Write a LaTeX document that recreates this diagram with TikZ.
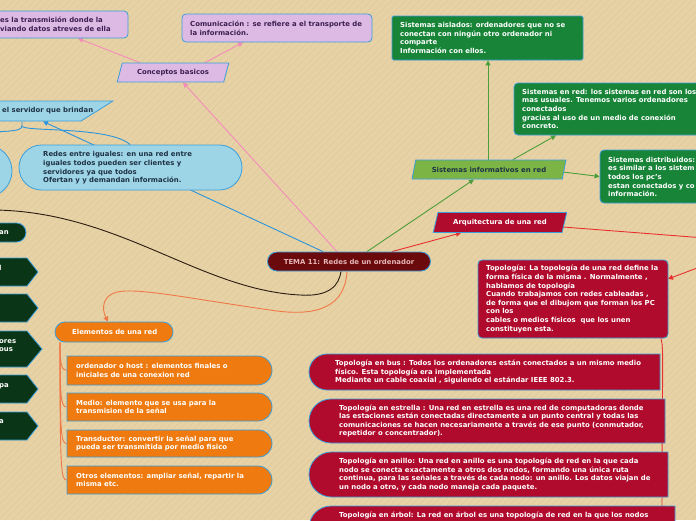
\documentclass[tikz,border=0pt]{standalone}
\usepackage{fontspec}
\setmainfont{DejaVu Sans}
\usetikzlibrary{shapes.geometric,shapes.misc,arrows.meta,calc}
\pgfdeclarelayer{paper}
\pgfdeclarelayer{links}
\pgfsetlayers{paper,links,main}
\definecolor{bg}{RGB}{231,210,166}
\definecolor{stripe}{RGB}{223,201,157}
\definecolor{purp}{RGB}{220,186,228}
\definecolor{purptext}{RGB}{60,30,80}
\definecolor{bord}{RGB}{58,158,219}
\definecolor{dgreen}{RGB}{24,132,56}
\definecolor{lgreen}{RGB}{124,181,69}
\definecolor{crim}{RGB}{176,11,45}
\definecolor{temafill}{RGB}{106,10,12}
\definecolor{tematext}{RGB}{230,183,185}
\definecolor{ltblue}{RGB}{158,213,230}
\definecolor{bluetext}{RGB}{30,50,70}
\definecolor{orng}{RGB}{239,123,16}
\definecolor{dkgreen}{RGB}{10,53,22}
\definecolor{pinkline}{RGB}{243,140,184}
\definecolor{greenline}{RGB}{76,158,58}
\definecolor{redline}{RGB}{232,49,47}
\definecolor{blueline}{RGB}{43,148,218}
\definecolor{orline}{RGB}{240,120,70}
\definecolor{darkline}{RGB}{42,26,16}
\newcommand{\fs}{\fontsize{6.9}{8.6}\selectfont\bfseries}
\begin{document}
\begin{tikzpicture}[x=1pt,y=-1pt,
  base/.style={inner sep=0pt, line width=0.8pt, draw=bord},
  txt/.style={font=\fs, inner sep=0pt, align=left, anchor=west},
  rbox/.style={base, rectangle, rounded corners=4pt},
  para/.style={base, trapezium, trapezium left angle=62, trapezium right angle=118, trapezium stretches=true, font=\fs},
  pill/.style={base, rounded rectangle},
  lpill/.style={base, rounded rectangle, rounded rectangle left arc=none},
  rpill/.style={base, rounded rectangle, rounded rectangle right arc=none},
  conn/.style={line width=0.9pt, -{Triangle[length=5pt,width=5pt]}},
  link/.style={line width=0.9pt},
  darkshape/.style={fill=dkgreen, draw=bord, line width=0.8pt}
]
\begin{pgfonlayer}{paper}
\fill[bg] (0,0) rectangle (696,520);
\begin{scope}
\clip (0,0) rectangle (696,520);
\foreach \i in {0,7,...,1220} {\draw[stripe, line width=0.5pt] (\i,0) -- (\i-520,520);}
\end{scope}
\end{pgfonlayer}
\useasboundingbox (0,0) rectangle (696,520);

\coordinate (dk) at (-5,210);
\coordinate (offa) at (705,238);
\coordinate (offb) at (705,265);
\coordinate (vbot) at (662,525);

% ---------- purple ----------
\node[rbox, fill=purp, minimum width=136pt, minimum height=27pt] (tl) at (60,24.5) {};
\node[txt, text=purptext] (tlt) at (0,24.5) {es la transmisión donde la\\viando datos atreves de ella};

\node[rbox, fill=purp, minimum width=190pt, minimum height=28pt] (com) at (277,28) {};
\node[txt, text=purptext] (comt) at (190,28) {Comunicación : se refiere a el transporte de\\la información.};

\node[para, fill=purp, text=purptext, minimum width=112pt, minimum height=19pt] (conc) at (173,72.5) {Conceptos basicos};

% ---------- green ----------
\node[base, rectangle, rounded corners=1.5pt, fill=dgreen, minimum width=191pt, minimum height=44pt] (aisl) at (487.5,38) {};
\node[txt, text=white] (aislt) at (400,38) {Sistemas aislados: ordenadores que no se\\conectan con ningún otro ordenador ni\\comparte\\Información con ellos.};

\node[rbox, fill=dgreen, minimum width=206pt, minimum height=52pt] (enred) at (617,109) {};
\node[txt, text=white] (enredt) at (522,109) {Sistemas en red: los sistemas en red son los\\mas usuales. Tenemos varios ordenadores\\conectados\\gracias al uso de un medio de conexión\\concreto.};

\node[rbox, fill=dgreen, minimum width=120pt, minimum height=53pt] (distr) at (660,176.5) {};
\node[txt, text=white] (distrt) at (608,177) {Sistemas distribuidos:\\es similar a los sistem\\todos los pc's\\estan conectados y co\\información.};

\node[para, fill=lgreen, text=bluetext, minimum width=154pt, minimum height=19pt] (sinf) at (489,169.5) {Sistemas informativos en red};

% ---------- red ----------
\node[para, fill=crim, text=white, minimum width=134pt, minimum height=20pt] (arq) at (500,222.5) {Arquitectura de una red};

\node[pill, fill=temafill, text=tematext, font=\fs, minimum width=163pt, minimum height=19pt] (tem) at (349,261.5) {TEMA 11: Redes de un ordenador};

\node[rbox, fill=crim, minimum width=190pt, minimum height=78pt] (topo) at (573,299) {};
\node[txt, text=white] (topot) at (486,299) {Topología: La topología de una red define la\\forma física de la misma . Normalmente ,\\hablamos de topología\\Cuando trabajamos con redes cableadas ,\\de forma que el dibujom que forman los PC\\con los\\cables o medios físicos\ \ que los unen\\constituyen esta.};

\node[rpill, fill=crim, minimum width=351pt, minimum height=36pt] (bus) at (484.5,372) {};
\node[txt, text=white] (bust) at (335,372) {Topología en bus : Todos los ordenadores están conectados a un mismo medio\\físico. Esta topología era implementada\\Mediante un cable coaxial , siguiendo el estándar IEEE 802.3.};

\node[rpill, fill=crim, minimum width=356pt, minimum height=44pt] (estr) at (487,421) {};
\node[txt, text=white] (estrt) at (339,421) {Topología en estrella : Una red en estrella es una red de computadoras donde\\las estaciones están conectadas directamente a un punto central y todas las\\comunicaciones se hacen necesariamente a través de ese punto (conmutador,\\repetidor o concentrador).};

\node[rpill, fill=crim, minimum width=359pt, minimum height=45pt] (anil) at (488.5,474.5) {};
\node[txt, text=white] (anilt) at (339,474.5) {Topología en anillo: Una red en anillo es una topología de red en la que cada\\nodo se conecta exactamente a otros dos nodos, formando una única ruta\\continua, para las señales a través de cada nodo: un anillo. Los datos viajan de\\un nodo a otro, y cada nodo maneja cada paquete.};

\node[rpill, fill=crim, minimum width=366pt, minimum height=44pt] (arbol) at (492,528) {};
\node[txt, text=white] (arbolt) at (339,515) {Topología en árbol: La red en árbol es una topología de red en la que los nodos};

% ---------- light blue ----------
\node[para, fill=ltblue, minimum width=146pt, minimum height=20pt] (serv) at (40,111) {\phantom{M}};
\node[txt, text=bluetext] (servt) at (2,111) {el servidor que brindan};

\node[pill, fill=ltblue, minimum width=223pt, minimum height=45pt] (igu) at (130.5,167.5) {};
\node[txt, text=bluetext] (igut) at (43,168) {Redes entre iguales: en una red entre\\iguales todos pueden ser clientes y\\servidores ya que todos\\Ofertan y y demandan información.};

\node[lpill, fill=ltblue, minimum width=52pt, minimum height=52pt] (lp) at (-14,171) {};

% ---------- dark green (left) ----------
\node[lpill, fill=dkgreen, minimum width=66pt, minimum height=19pt] (dan) at (-7,232.5) {};
\node[txt, text=white] (dant) at (-1,233) {an};
\draw[darkshape] (-10,258) -- (27,258) -- (38,272) -- (27,286) -- (-10,286) -- cycle;
\node[txt, text=white] (d1t) at (-1,268) {l};
\draw[darkshape] (-10,294) -- (27,294) -- (38,308) -- (27,322) -- (-10,322) -- cycle;
\draw[darkshape] (-10,331) -- (27,331) -- (42,349) -- (27,367) -- (-10,367) -- cycle;
\node[txt, text=white] (d3t) at (-1,345.5) {ores\\ous};
\draw[darkshape] (-10,375) -- (27,375) -- (38,389) -- (27,403) -- (-10,403) -- cycle;
\node[txt, text=white] (d4t) at (-1,386) {pa};
\draw[darkshape] (-10,412) -- (27,412) -- (38,426) -- (27,440) -- (-10,440) -- cycle;
\node[txt, text=white] (d5t) at (-1,422) {a};

% ---------- orange ----------
\node[pill, fill=orng, minimum width=118pt, minimum height=20pt] (elem) at (114,332) {};
\node[txt, text=white] (elemt) at (72,332) {Elementos de una red};

\node[lpill, fill=orng, minimum width=205pt, minimum height=29pt] (i1) at (169.5,370.5) {};
\node[txt, text=white] (i1t) at (76,370.5) {ordenador o host : elementos finales o\\iniciales de una conexion red};
\node[lpill, fill=orng, minimum width=205pt, minimum height=28pt] (i2) at (169.5,407) {};
\node[txt, text=white] (i2t) at (76,407) {Medio: elemento que se usa para la\\transmision de la señal};
\node[lpill, fill=orng, minimum width=205pt, minimum height=27pt] (i3) at (169.5,443.5) {};
\node[txt, text=white] (i3t) at (76,443.5) {Transductor: convertir la señal para que\\pueda ser transmitida por medio fisico};
\node[lpill, fill=orng, minimum width=205pt, minimum height=28pt] (i4) at (169.5,480) {};
\node[txt, text=white] (i4t) at (76,480) {Otros elementos: ampliar señal, repartir la\\misma etc.};

% ---------- connectors ----------
\begin{pgfonlayer}{links}
% pink
\draw[conn, pinkline] (140,0 |- conc.north) -- (78,0 |- tl.south);
\draw[conn, pinkline] (205,0 |- conc.north) -- (243,0 |- com.south);
\draw[conn, pinkline] (337,0 |- tem.north) -- (183,0 |- conc.south);
% green
\draw[conn, greenline] (488,0 |- sinf.north) -- (488,0 |- aisl.south);
\draw[conn, greenline] (513,0 |- sinf.north) -- (556,0 |- enred.south);
\draw[conn, greenline] (563,172) -- (distr.west);
\draw[conn, greenline] (367,0 |- tem.north) -- (474,0 |- sinf.south);
% red
\draw[conn, redline] (392,0 |- tem.north) -- (461,0 |- arq.south);
\draw[link, redline] (563,227) -- (offa);
\draw[conn, redline] (offb) -- (668,279);
\draw[link, redline] (661,0 |- topo.south) .. controls (664,350) and (662,360) .. (vbot);
% blue
\draw[conn, blueline] (323,0 |- tem.north) -- (43,0 |- serv.south);
\draw[link, blueline] (22,0 |- serv.south) -- (22,126) .. controls (22,131) and (10,131) .. (-5,132);
\draw[link, blueline] (22,126) .. controls (22,132) and (110,126) .. (130,0 |- igu.north);
% dark
\draw[link, darkline] (dk) .. controls (120,212) and (200,290) .. (300,295) .. controls (330,297) and (339,285) .. (341,0 |- tem.south);
% orange
\draw[conn, orline] (347,0 |- tem.south) .. controls (345,305) and (320,318) .. (270,310) .. controls (200,300) and (150,290) .. (125,291) .. controls (100,292) and (102,310) .. (108,0 |- elem.north);
\draw[link, orline] (60,0 |- elem.south) .. controls (60,362) and (61,370.5) .. (i1.west);
\draw[link, orline] (60,0 |- elem.south) .. controls (60,398) and (61,407) .. (i2.west);
\draw[link, orline] (60,0 |- elem.south) .. controls (60,434) and (61,443.5) .. (i3.west);
\draw[link, orline] (60,0 |- elem.south) .. controls (60,470) and (61,480) .. (i4.west);
\end{pgfonlayer}
\end{tikzpicture}
\end{document}
